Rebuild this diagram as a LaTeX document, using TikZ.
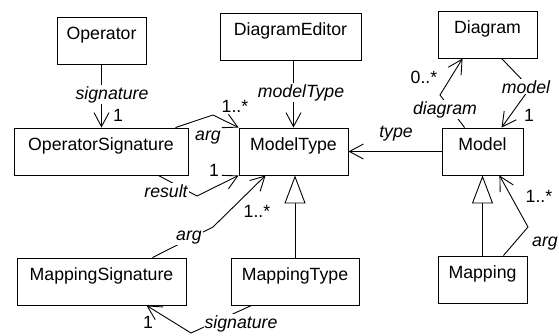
\documentclass[tikz,border=0pt]{standalone}
\usepackage{fontspec}
\setmainfont{Liberation Sans}
\usetikzlibrary{arrows.meta}

\begin{document}
\fontsize{17.7}{20}\selectfont
\begin{tikzpicture}[x=1pt,y=-1pt]
	\tikzstyle{classbox}=[rectangle,draw=black,line width=0.9pt,inner xsep=0pt,inner ysep=0pt,text height=22pt,text depth=25pt]
	\tikzstyle{assoc}=[draw,line width=0.9pt,-{Straight Barb[length=14pt,width=15pt]}]
	\tikzstyle{gen}=[draw,line width=0.9pt,-{Triangle[length=28pt,width=21pt,fill=white]}]
	\tikzstyle{role}=[font=\itshape,fill=white,inner sep=1pt,anchor=base]
	\tikzstyle{mult}=[inner sep=0pt,anchor=base]
	\useasboundingbox (0,0) rectangle (559,335);
	\begin{scope}
		% classes
		\node [classbox,minimum width=89pt] (op) at (101.5,40.5) {Operator};
		\node [classbox,minimum width=141pt] (de) at (290.5,36.5) {DiagramEditor};
		\node [classbox,minimum width=99pt] (dg) at (487.5,34.5) {Diagram};
		\node [classbox,minimum width=174pt] (os) at (101,151.5) {OperatorSignature};
		\node [classbox,minimum width=109pt] (mt) at (293.5,151.5) {ModelType};
		\node [classbox,minimum width=81pt] (md) at (482.5,151.5) {Model};
		\node [classbox,minimum width=169pt] (ms) at (101.5,281.5) {MappingSignature};
		\node [classbox,minimum width=128pt] (mpt) at (295,281.5) {MappingType};
		\node [classbox,minimum width=89pt] (mp) at (482.5,279.5) {Mapping};
		% bends
		\coordinate (b1) at (440,95);
		\coordinate (b2) at (530,88);
		\coordinate (b3) at (213,115);
		\coordinate (b4) at (197,196);
		\coordinate (b5) at (213,227);
		\coordinate (b6) at (528,227);
		\coordinate (b7) at (191,333);
		% associations
		\path[assoc] (op.south) -- (op.south |- os.north);
		\path[assoc] (de.south -| mt.north) -- (mt.north);
		\path[assoc] (md.west) -- (mt.east);
		\path[assoc] ([xshift=23]md.north west) -- (b1) -- ([xshift=25]dg.south west);
		\path[assoc] ([xshift=64]dg.south west) -- (b2) -- ([xshift=60]md.north west);
		\path[assoc] ([xshift=-13]os.north east) -- (b3) -- (mt.north west);
		\path[assoc] ([xshift=-30]os.south east) -- (b4) -- (mt.south west);
		\path[assoc] ([xshift=-34]ms.north east) -- (b5) -- ([xshift=27]mt.south west);
		\path[assoc] ([xshift=-24]mp.north east) -- (b6) -- ([xshift=-24]md.south east);
		\path[assoc] ([xshift=21]mpt.south west) -- (b7) -- ([xshift=-40]ms.south east);
		% generalizations
		\path[gen] (mpt.north) -- (mpt.north |- mt.south);
		\path[gen] (mp.north) -- (mp.north |- md.south);
		% roles and multiplicities
		\node [role] (r1) at (112,99) {signature};
		\node [mult] (m1) at (118,121) {1};
		\node [role] (r2) at (301,97) {modelType};
		\node [role] (r3) at (396,137) {type};
		\node [role] (r4) at (445,114) {diagram};
		\node [mult] (m4) at (424,83) {0..*};
		\node [role] (r5) at (526,93) {model};
		\node [mult] (m5) at (529,121) {1};
		\node [role] (r6) at (208,140) {arg};
		\node [mult] (m6) at (235,112) {1..*};
		\node [role] (r7) at (166,197) {result};
		\node [mult] (m7) at (214,176) {1};
		\node [role] (r8) at (189,240) {arg};
		\node [mult] (m8) at (257,217) {1..*};
		\node [mult] (m9) at (539,202) {1..*};
		\node [role] (r9) at (545,246) {arg};
		\node [role] (r10) at (241,328) {signature};
		\node [mult] (m10) at (148,328) {1};
	\end{scope}
\end{tikzpicture}
\end{document}
